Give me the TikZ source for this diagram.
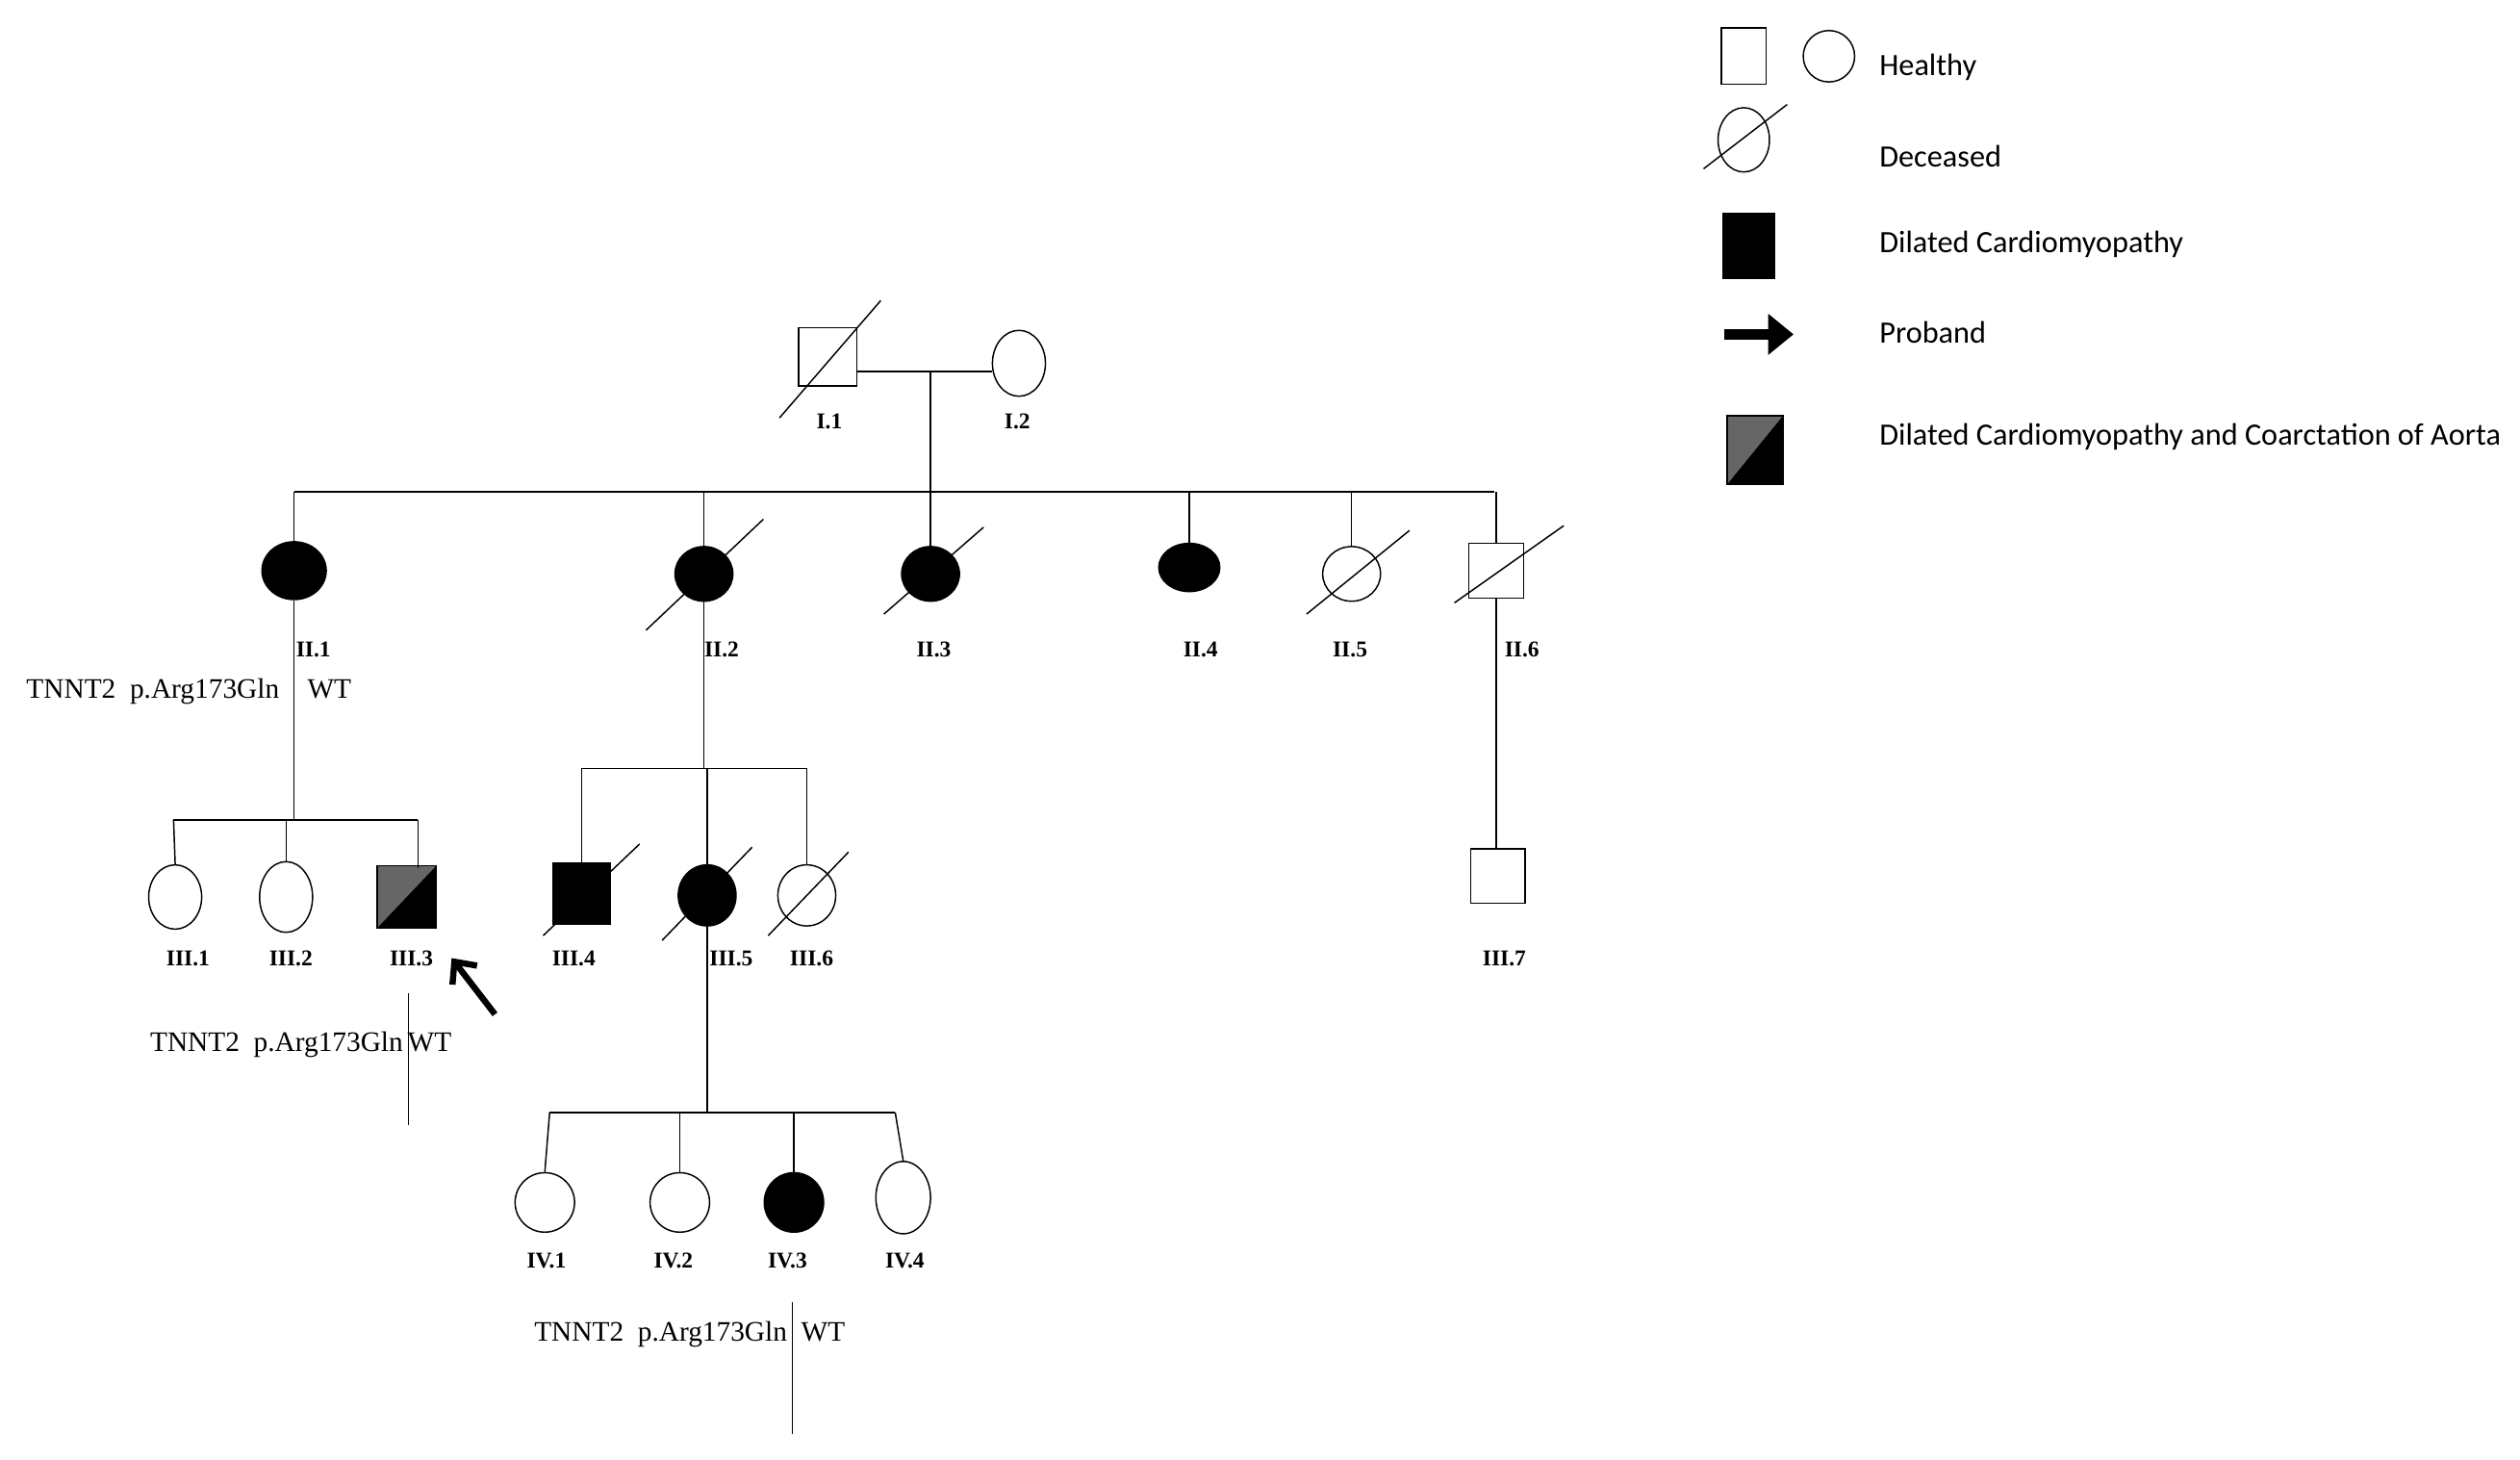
\documentclass[tikz,border=0pt]{standalone}
\usepackage{fontspec}
\setmainfont{Liberation Serif}
\newfontfamily\leg{Carlito}
\usetikzlibrary{arrows.meta,shapes.geometric}
\begin{document}
\begin{tikzpicture}[x=0.02cm,y=-0.02cm,line width=0.5pt,
 lab/.style={font=\bfseries\fontsize{8}{9}\selectfont,inner sep=0},
 gt/.style={font=\fontsize{10}{11}\selectfont,inner sep=0,anchor=west},
 lt/.style={font=\leg\fontsize{11}{12}\selectfont,inner sep=0,anchor=west},
 sq/.style={draw,minimum width=0.68cm,minimum height=0.68cm,inner sep=0},
 fem/.style={draw,ellipse,minimum width=0.66cm,minimum height=0.76cm,inner sep=0},
 aff/.style={fill=black}]
\useasboundingbox (0,0) rectangle (1568,908);
% generation I
\node[sq,minimum width=0.72cm,minimum height=0.72cm] (i1) at (515,222) {};
\draw (485,260) -- (548,187);
\node[fem,minimum height=0.82cm] (i2) at (634,226) {};
\node[lab] at (516,262) {I.1};
\node[lab] at (633,262) {I.2};
\draw (i1.east|-0,231) -- (i2.west|-0,231);
\draw (579,231) -- (579,306);
\draw (183,306) -- (930,306);
% generation II
\node[fem,aff,minimum width=0.8cm,minimum height=0.72cm] (ii1) at (183,355) {};
\node[fem,aff,minimum width=0.72cm,minimum height=0.68cm] (ii2) at (438,357) {};
\node[fem,aff,minimum width=0.72cm,minimum height=0.68cm] (ii3) at (579,357) {};
\node[fem,aff,minimum width=0.76cm,minimum height=0.6cm] (ii4) at (740,353) {};
\node[fem,minimum width=0.72cm,minimum height=0.68cm] (ii5) at (841,357) {};
\node[sq] (ii6) at (931,355) {};
\draw (402,392) -- (475,323);
\draw (550,382) -- (612,328);
\draw (813,382) -- (877,330);
\draw (905,375) -- (973,327);
\foreach \n/\x in {ii1/183,ii2/438,ii3/579,ii4/740,ii5/841,ii6/931} \draw (\x,306) -- (\n.north);
\node[lab] at (195,404) {II.1};
\node[lab] at (449,404) {II.2};
\node[lab] at (581,404) {II.3};
\node[lab] at (747,404) {II.4};
\node[lab] at (840,404) {II.5};
\node[lab] at (947,404) {II.6};
\node[gt] at (16,430) {TNNT2\ \ p.Arg173Gln\quad WT};
% III from II.1
\draw (ii1.south) -- (183,510);
\draw (108,510) -- (260,510);
\node[fem,minimum height=0.8cm] (iii1) at (109,558) {};
\node[fem,minimum height=0.88cm] (iii2) at (178,558) {};
\node[sq,minimum width=0.72cm,minimum height=0.76cm] (iii3) at (253,558) {};
\fill[gray!80!black] (iii3.north west) -- (iii3.north east) -- (iii3.south west) -- cycle;
\fill (iii3.north east) -- (iii3.south east) -- (iii3.south west) -- cycle;
\draw (iii3.north west) rectangle (iii3.south east);
\draw (108,510) -- (iii1.north);
\draw (178,510) -- (iii2.north);
\draw (260,510) -- (260,540);
\node[lab] at (117,596) {III.1};
\node[lab] at (181,596) {III.2};
\node[lab] at (256,596) {III.3};
\coordinate (pa) at (308,631);
\coordinate (pb) at (281,596);
\draw[line width=2.2pt,-{Straight Barb[length=6pt,width=11pt]}] (pa) -- (pb);
\node[gt] at (93,650) {TNNT2\ \ p.Arg173Gln\,WT};
\draw (254,618) -- (254,700);
% III from II.2
\draw (ii2.south) -- (438,478);
\draw (362,478) -- (502,478);
\node[sq,aff,minimum width=0.72cm,minimum height=0.76cm] (iii4) at (362,556) {};
\node[fem,aff,minimum width=0.72cm,minimum height=0.76cm] (iii5) at (440,557) {};
\node[fem,minimum width=0.72cm,minimum height=0.76cm] (iii6) at (502,557) {};
\draw (338,582) -- (398,525);
\draw (412,585) -- (468,527);
\draw (478,582) -- (528,530);
\foreach \n/\x in {iii4/362,iii5/440,iii6/502} \draw (\x,478) -- (\n.north);
\node[lab] at (357,596) {III.4};
\node[lab] at (455,596) {III.5};
\node[lab] at (505,596) {III.6};
% III.7
\draw (ii6.south) -- (931,528);
\node[sq] (iii7) at (932,545) {};
\node[lab] at (936,596) {III.7};
% IV
\draw (iii5.south) -- (440,692);
\draw (342,692) -- (557,692);
\node[fem,minimum width=0.74cm,minimum height=0.74cm] (iv1) at (339,748) {};
\node[fem,minimum width=0.74cm,minimum height=0.74cm] (iv2) at (423,748) {};
\node[fem,aff,minimum width=0.74cm,minimum height=0.74cm] (iv3) at (494,748) {};
\node[fem,minimum width=0.68cm,minimum height=0.9cm] (iv4) at (562,745) {};
\draw (342,692) -- (iv1.north);
\draw (423,692) -- (iv2.north);
\draw (494,692) -- (iv3.north);
\draw (557,692) -- (iv4.north);
\node[lab] at (340,784) {IV.1};
\node[lab] at (419,784) {IV.2};
\node[lab] at (490,784) {IV.3};
\node[lab] at (563,784) {IV.4};
\node[gt] at (332,830) {TNNT2\ \ p.Arg173Gln\ \ WT};
\draw (493,810) -- (493,892);
% legend
\node[sq,minimum width=0.56cm,minimum height=0.7cm] (l1) at (1085,35) {};
\node[fem,minimum width=0.64cm,minimum height=0.64cm] (l2) at (1138,35) {};
\node[lt] at (1169,42) {Healthy};
\node[fem,minimum width=0.64cm,minimum height=0.8cm] (l3) at (1085,87) {};
\draw (1060,105) -- (1112,65);
\node[lt] at (1169,97) {Deceased};
\node[sq,aff,minimum width=0.64cm,minimum height=0.8cm] (l4) at (1088,153) {};
\node[lt] at (1169,152) {Dilated Cardiomyopathy};
\coordinate (la) at (1073,208);
\coordinate (lb) at (1116,208);
\draw[line width=4pt,-{Triangle[length=9pt,width=14pt]}] (la) -- (lb);
\node[lt] at (1169,207) {Proband};
\node[sq,minimum width=0.68cm,minimum height=0.84cm] (l5) at (1092,280) {};
\fill[gray!80!black] (l5.north west) -- (l5.north east) -- (l5.south west) -- cycle;
\fill (l5.north east) -- (l5.south east) -- (l5.south west) -- cycle;
\draw (l5.north west) rectangle (l5.south east);
\node[lt] at (1169,272) {Dilated Cardiomyopathy and Coarctation of Aorta};
\end{tikzpicture}
\end{document}
